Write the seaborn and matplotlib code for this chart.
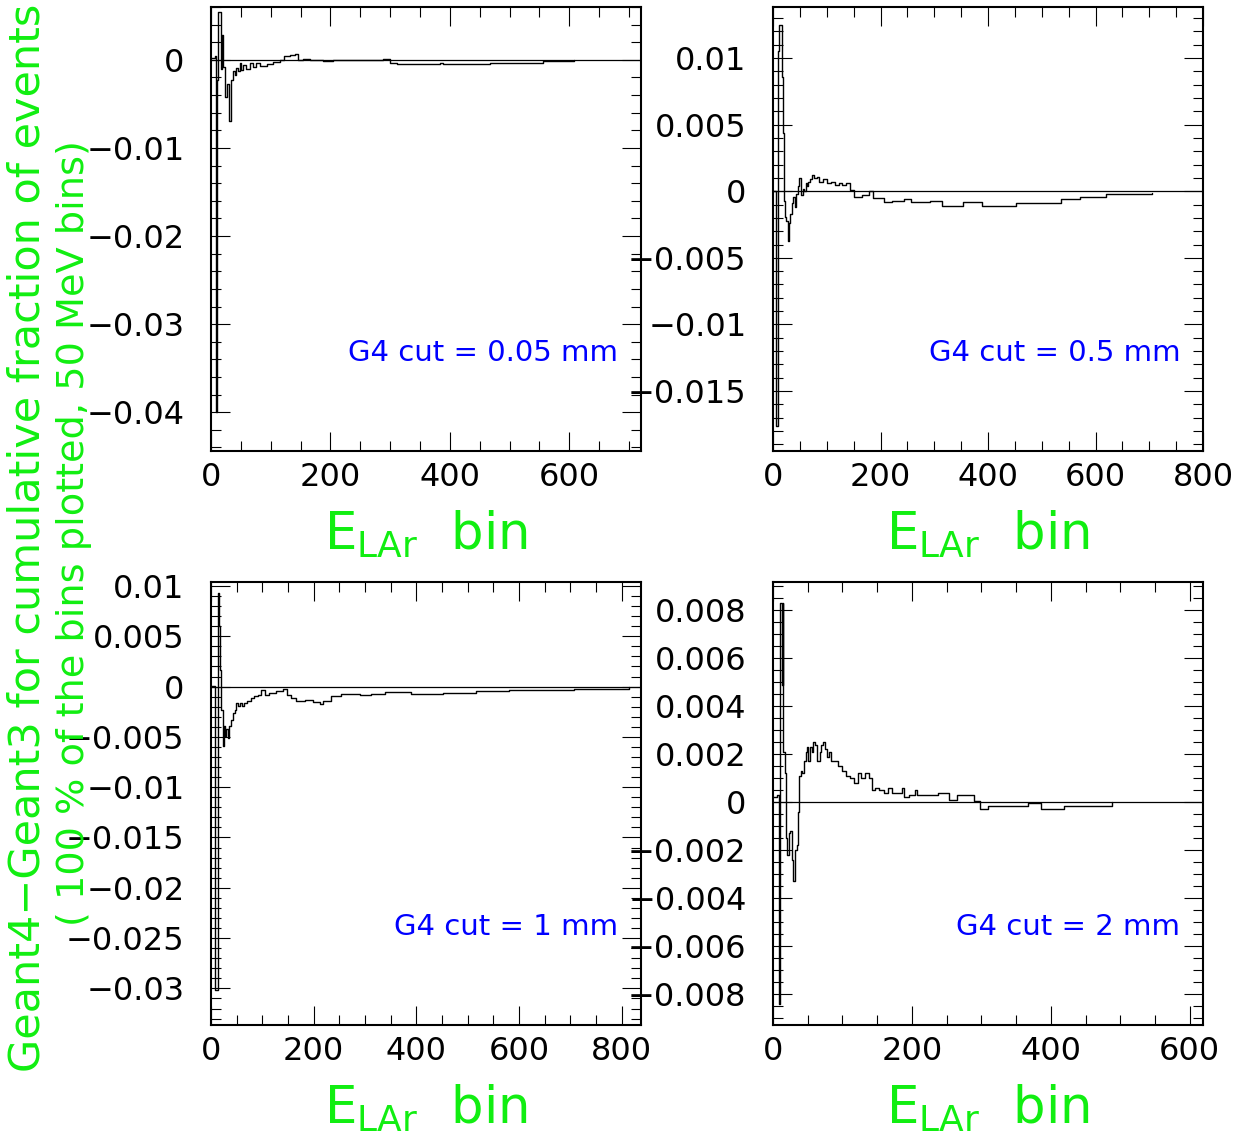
import matplotlib
matplotlib.use("Agg")
import matplotlib.pyplot as plt
import numpy as np
import pandas as pd
import seaborn as sns
from matplotlib.ticker import MultipleLocator, FuncFormatter

# Cumulative-fraction difference (Geant4 - Geant3) per E_LAr bin, one series per G4 range cut
bins_005 = [0, 1, 6, 8, 10, 12, 16, 18, 20, 23, 27, 30, 34, 37, 40, 42, 45, 48, 51, 54,
            59, 65, 70, 76, 82, 93, 104, 115, 123, 132, 140, 146, 154, 165, 188, 204,
            288, 299, 311, 383, 389, 467, 556, 607]
diff_005 = [0.0002, 0.0002, 0.0004, -0.0400, -0.0023, 0.0054, -0.0010, 0.0028, -0.0008,
            -0.0042, -0.0027, -0.0069, -0.0023, -0.0013, -0.0017, -0.0009, -0.0013,
            -0.0004, -0.0011, -0.0006, -0.0010, -0.0004, -0.0008, -0.0003, -0.0007,
            -0.0005, -0.0002, 0.0000, 0.0004, 0.0006, 0.0007, 0.0000, 0.0001, 0.0000,
            -0.0001, 0.0000, 0.0001, -0.0004, -0.0005, -0.0004, -0.0005, -0.0003,
            -0.0001, 0.0000]

bins_05 = [0, 4, 6, 9, 12, 16, 18, 21, 23, 25, 27, 29, 32, 35, 38, 41, 43, 46, 49, 52,
           55, 58, 61, 63, 66, 69, 72, 76, 81, 86, 93, 100, 108, 115, 122, 129, 136,
           143, 150, 165, 179, 186, 207, 222, 243, 257, 293, 314, 353, 389, 453, 535,
           571, 620, 706]
diff_05 = [0.0000, 0.0000, -0.0176, 0.0105, 0.0125, 0.0086, 0.0044, -0.0007, -0.0019,
           -0.0022, -0.0037, -0.0024, -0.0017, -0.0009, -0.0004, -0.0012, -0.0002,
           0.0004, 0.0010, -0.0003, 0.0002, 0.0000, 0.0006, 0.0004, 0.0007, 0.0009,
           0.0012, 0.0010, 0.0011, 0.0007, 0.0009, 0.0006, 0.0007, 0.0005, 0.0006,
           0.0005, 0.0006, 0.0001, -0.0004, -0.0003, 0.0000, -0.0005, -0.0008, -0.0007,
           -0.0006, -0.0008, -0.0007, -0.0011, -0.0008, -0.0011, -0.0009, -0.0006,
           -0.0004, -0.0002, -0.0001]

bins_1 = [0, 1, 8, 13, 16, 18, 20, 23, 25, 28, 30, 33, 36, 39, 42, 46, 49, 53, 56, 60,
          64, 70, 77, 84, 91, 98, 106, 113, 127, 141, 148, 155, 166, 184, 198, 212, 219,
          233, 254, 290, 311, 339, 389, 453, 517, 580, 708, 814]
diff_1 = [0.0001, 0.0001, -0.0302, 0.0093, 0.0060, 0.0017, -0.0023, -0.0059, -0.0039,
          -0.0049, -0.0042, -0.0051, -0.0039, -0.0033, -0.0026, -0.0023, -0.0016,
          -0.0019, -0.0016, -0.0019, -0.0016, -0.0014, -0.0011, -0.0009, -0.0008,
          -0.0003, -0.0008, -0.0006, -0.0004, -0.0002, -0.0008, -0.0011, -0.0014,
          -0.0013, -0.0015, -0.0017, -0.0014, -0.0009, -0.0007, -0.0008, -0.0007,
          -0.0005, -0.0007, -0.0006, -0.0004, -0.0003, -0.0002, 0.0000]

bins_2 = [0, 2, 6, 8, 10, 13, 14, 15, 17, 18, 20, 23, 25, 27, 29, 31, 34, 36, 38, 40,
          42, 45, 47, 49, 51, 53, 56, 58, 61, 64, 67, 69, 72, 75, 78, 80, 83, 89, 94,
          100, 105, 111, 116, 122, 127, 133, 138, 142, 147, 152, 160, 166, 171, 185,
          188, 196, 204, 207, 237, 254, 265, 290, 298, 309, 367, 386, 419, 488]
diff_2 = [0.0002, 0.0002, 0.0003, -0.0084, 0.0083, 0.0049, 0.0083, 0.0021, 0.0012,
          -0.0015, -0.0022, -0.0013, -0.0012, -0.0024, -0.0033, -0.0020, -0.0018,
          -0.0004, 0.0011, 0.0013, 0.0012, 0.0017, 0.0021, 0.0023, 0.0017, 0.0023,
          0.0021, 0.0025, 0.0024, 0.0017, 0.0021, 0.0024, 0.0025, 0.0022, 0.0019,
          0.0021, 0.0017, 0.0017, 0.0015, 0.0013, 0.0011, 0.0010, 0.0008, 0.0012,
          0.0010, 0.0012, 0.0010, 0.0005, 0.0006, 0.0005, 0.0004, 0.0006, 0.0004,
          0.0006, 0.0002, 0.0003, 0.0005, 0.0003, 0.0004, 0.0001, 0.0003, 0.00003,
          -0.0003, -0.00014, -0.00003, -0.0003, -0.00014, 0.0000]

cut_labels = ["G4 cut = 0.05 mm", "G4 cut = 0.5 mm", "G4 cut = 1 mm", "G4 cut = 2 mm"]
x_limits = [(0, 720), (0, 800), (0, 838), (0, 619)]
y_limits = [(-0.0444, 0.0060), (-0.0195, 0.01383), (-0.03364, 0.0104), (-0.00929, 0.00918)]
y_major = [0.01, 0.005, 0.005, 0.002]
y_minor = [0.002, 0.001, 0.001, 0.0005]

ylabel_main = "Geant4\u2212Geant3 for cumulative fraction of events"
ylabel_note = "( 100 % of the bins plotted, 50 MeV bins)"

GREEN = "#11ee11"

sns.set_theme(style="ticks")
plt.rcParams["font.family"] = ["DejaVu Sans"]
plt.rcParams["mathtext.default"] = "regular"

W, H = 1243, 1138
fig = plt.figure(figsize=(W / 100, H / 100), dpi=100)
fig.patch.set_facecolor("white")

# axes boxes in pixel coordinates: (left, top, right, bottom)
boxes = [(211, 7, 641, 451), (773, 7, 1203, 451),
         (211, 582, 641, 1025), (773, 582, 1203, 1025)]

series = [(bins_005, diff_005), (bins_05, diff_05), (bins_1, diff_1), (bins_2, diff_2)]


def tick_fmt(v, pos):
    if abs(v) < 1e-12:
        return "0"
    return f"{v:g}".replace("-", "\u2212")


for i, ((xs, ys), (l, t, r, b)) in enumerate(zip(series, boxes)):
    ax = fig.add_axes([l / W, 1 - b / H, (r - l) / W, (b - t) / H])
    ax.set_facecolor("white")
    df = pd.DataFrame({"bin": xs, "diff": ys})
    sns.lineplot(data=df, x="bin", y="diff", ax=ax, color="black", lw=1.0,
                 drawstyle="steps-post", estimator=None, sort=False)
    ax.axhline(0, color="black", lw=0.9, zorder=1)

    ax.set_xlim(*x_limits[i])
    ax.set_ylim(*y_limits[i])
    ax.set_xlabel("")
    ax.set_ylabel("")

    ax.xaxis.set_major_locator(MultipleLocator(200))
    ax.xaxis.set_minor_locator(MultipleLocator(50))
    ax.yaxis.set_major_locator(MultipleLocator(y_major[i]))
    ax.yaxis.set_minor_locator(MultipleLocator(y_minor[i]))
    ax.yaxis.set_major_formatter(FuncFormatter(tick_fmt))
    ax.xaxis.set_major_formatter(FuncFormatter(tick_fmt))

    ax.tick_params(which="both", direction="in", top=True, right=True,
                   color="black", width=0.8, labelsize=23, labelcolor="black")
    ax.tick_params(which="major", length=14)
    ax.tick_params(which="minor", length=7)
    ax.tick_params(axis="y", pad=19)
    ax.tick_params(axis="x", pad=8)
    for sp in ax.spines.values():
        sp.set_visible(True)
        sp.set_color("black")
        sp.set_linewidth(1.5)

    ax.text(0.947, 0.221, cut_labels[i], transform=ax.transAxes, ha="right",
            va="center", color="blue", fontsize=21)
    ax.text(0.5, -99 / (b - t), r"E$_{LAr}$  bin", transform=ax.transAxes,
            ha="center", va="baseline", color=GREEN, fontsize=37)

# shared y title, two lines set side by side
fig.text(28 / W, 1 - 538 / H, ylabel_main, rotation=90, ha="center", va="center",
         color=GREEN, fontsize=31)
fig.text(74 / W, 1 - 533 / H, ylabel_note, rotation=90, ha="center", va="center",
         color=GREEN, fontsize=27.5)

fig.savefig("out.png", dpi=100, facecolor="white")
